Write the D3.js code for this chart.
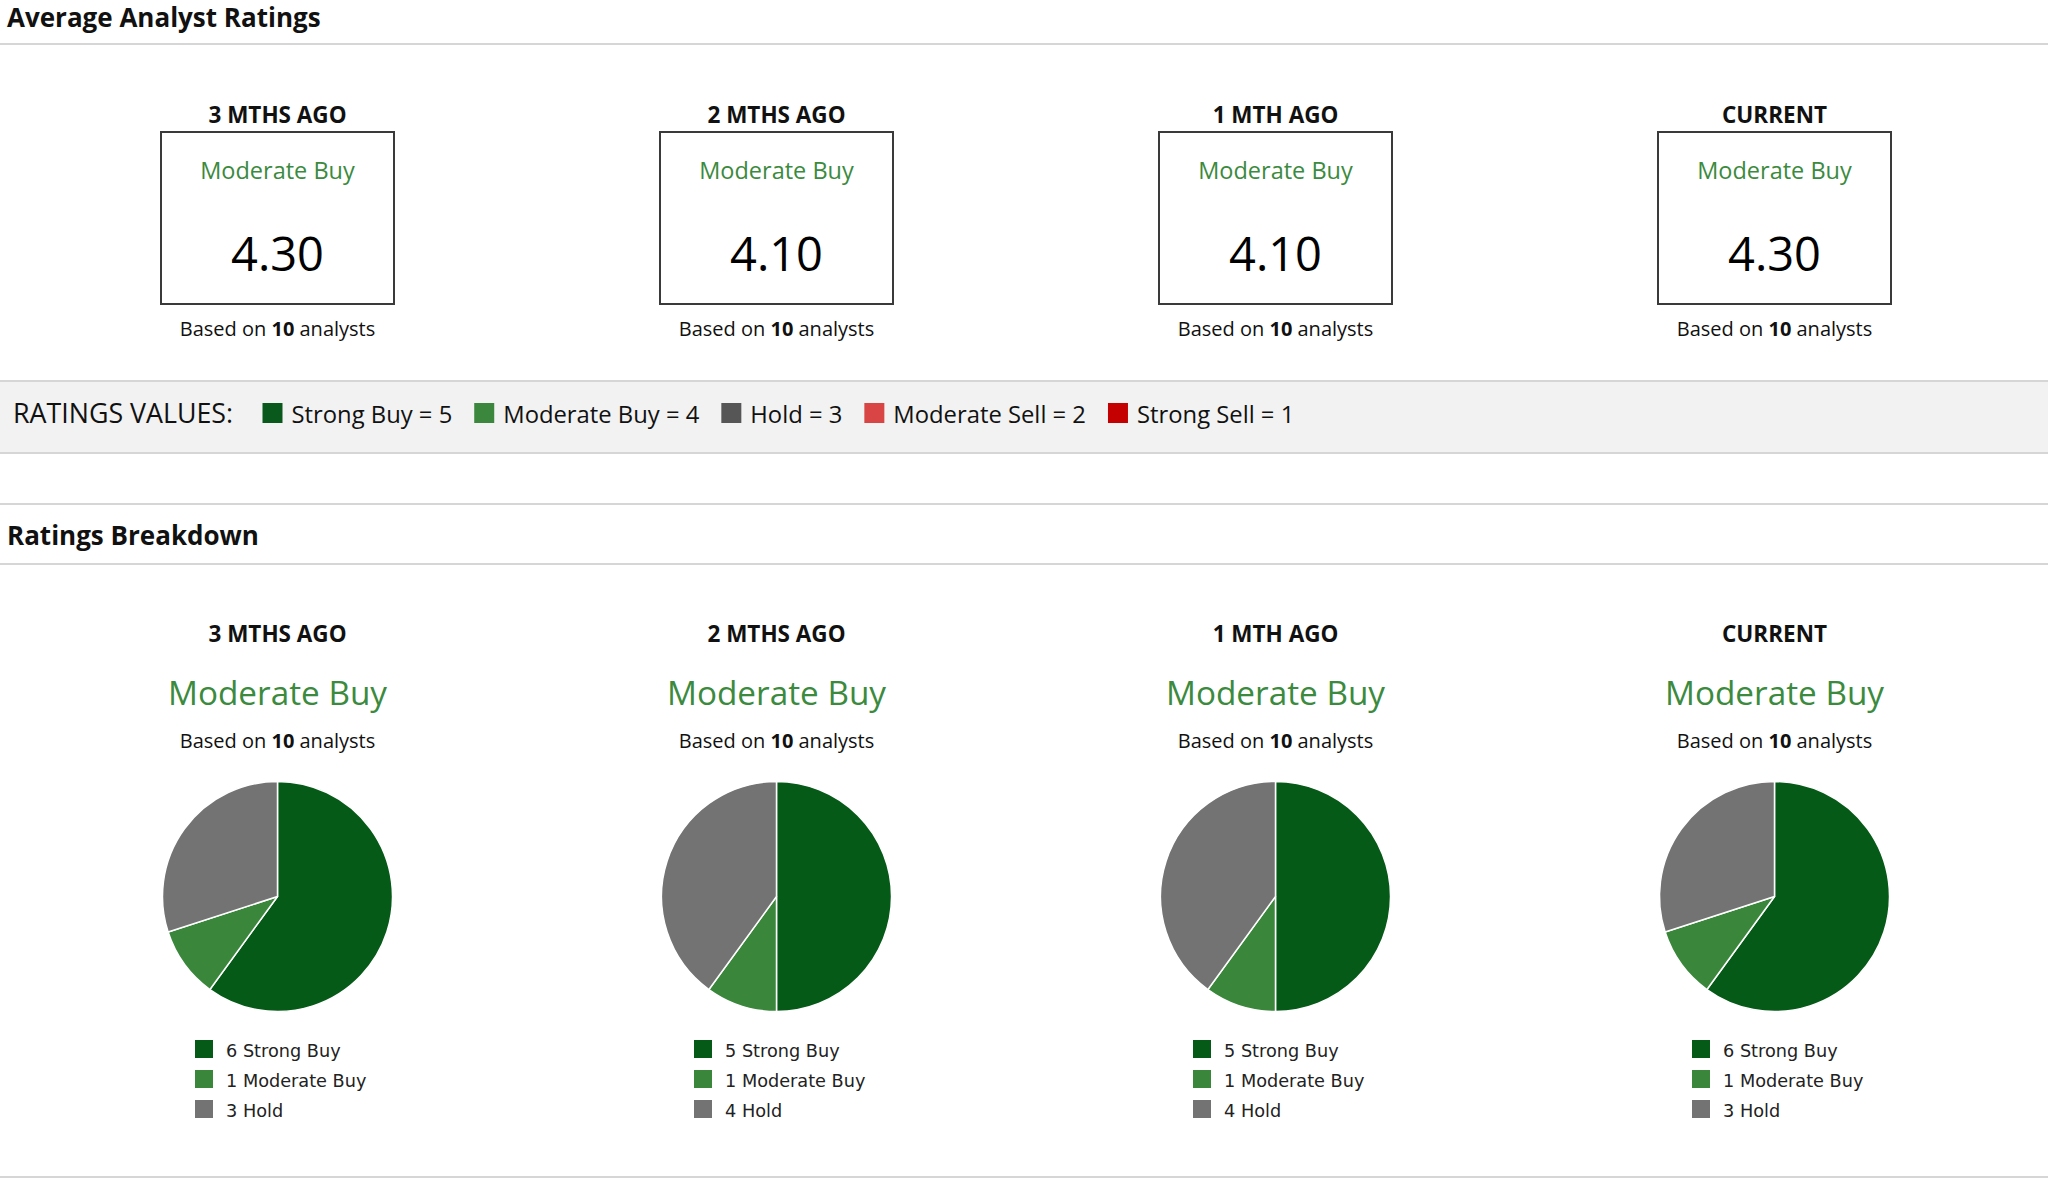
<html><head>
<title>Analyst Ratings</title>
<script src="https://d3js.org/d3.v7.min.js"></script>
<style>
  body { margin: 0; background: #ffffff; }
  svg text { font-family: 'Open Sans', sans-serif; }
  .sectionTitle { font-size: 26px; font-weight: 700; fill: #111; }
  .colHead { font-size: 22.5px; font-weight: 700; fill: #111; text-anchor: middle; }
  .based { font-size: 20px; fill: #111; text-anchor: middle; }
  .pieLegend { font-family: 'DejaVu Sans', sans-serif !important; font-size: 17.7px; fill: #222; }
</style>
</head>
<body>
<svg id="chart" width="2048" height="1179"></svg>
<script>

// ---- data ----
const periods = ["3 MTHS AGO", "2 MTHS AGO", "1 MTH AGO", "CURRENT"];
const avgScores = [4.30, 4.10, 4.10, 4.30];
const consensus = ["Moderate Buy", "Moderate Buy", "Moderate Buy", "Moderate Buy"];
const analystCounts = [10, 10, 10, 10];

const strongBuy = [6, 5, 5, 6];
const moderateBuy = [1, 1, 1, 1];
const hold = [3, 4, 4, 3];

const ratingNames = ["Strong Buy", "Moderate Buy", "Hold", "Moderate Sell", "Strong Sell"];
const ratingValues = [5, 4, 3, 2, 1];
const ratingColors = ["#08591b", "#3b873d", "#565656", "#d94545", "#c40000"];
const pieColors = ["#065a18", "#3a873c", "#737373"];

const svg = d3.select("#chart");
const width = +svg.attr("width");
const green = "#3b8a3e";
const lineColor = "#d6d6d6";

// column positions
const x = d3.scaleBand().domain(periods).range([28, 2024]);
const cx = p => x(p) + x.bandwidth() / 2;

function hline(y) {
  svg.append("rect").attr("x", 0).attr("y", y - 1).attr("width", width).attr("height", 2)
     .attr("fill", lineColor);
}

function basedOn(g, y, n) {
  const t = g.append("text").attr("class", "based").attr("y", y);
  t.append("tspan").text("Based on ");
  t.append("tspan").attr("font-weight", 700).text(n);
  t.append("tspan").text(" analysts");
}

// ---------- Average Analyst Ratings ----------
svg.append("text").attr("class", "sectionTitle").attr("x", 7).attr("y", 26.5)
   .text("Average Analyst Ratings");
hline(44);

const cols = svg.selectAll("g.avg").data(periods).join("g")
   .attr("class", "avg")
   .attr("transform", d => `translate(${cx(d)},0)`);

cols.append("text").attr("class", "colHead").attr("y", 123).text(d => d);
cols.append("rect")
   .attr("x", -116.5).attr("y", 132).attr("width", 233).attr("height", 172)
   .attr("fill", "none").attr("stroke", "#3a3a3a").attr("stroke-width", 2);
cols.append("text").attr("y", 178.5).attr("text-anchor", "middle")
   .attr("font-size", "23.5px").attr("fill", green)
   .text((d, i) => consensus[i]);
cols.append("text").attr("y", 270.5).attr("text-anchor", "middle")
   .attr("font-size", "47px").attr("fill", "#000")
   .text((d, i) => d3.format(".2f")(avgScores[i]));
cols.each(function(d, i) { basedOn(d3.select(this), 335.5, analystCounts[i]); });

// ---------- ratings values band ----------
svg.append("rect").attr("x", 0).attr("y", 381).attr("width", width).attr("height", 72)
   .attr("fill", "#f2f2f2");
hline(381);
hline(453);

svg.append("text").attr("x", 13).attr("y", 423.3).attr("font-size", "26.8px").attr("fill", "#111")
   .text("RATINGS VALUES:");

let lx = 262.5;
ratingNames.forEach((name, i) => {
  svg.append("rect").attr("x", lx).attr("y", 403).attr("width", 20).attr("height", 20)
     .attr("fill", ratingColors[i]);
  const t = svg.append("text").attr("x", lx + 29).attr("y", 423.3)
     .attr("font-size", "23.8px").attr("fill", "#111")
     .text(`${name} = ${ratingValues[i]}`);
  lx = lx + 29 + t.node().getComputedTextLength() + 22;
});

// ---------- Ratings Breakdown ----------
hline(504);
svg.append("text").attr("class", "sectionTitle").attr("x", 7).attr("y", 545)
   .text("Ratings Breakdown");
hline(564);

const pie = d3.pie().sort(null).value(d => d.count);
const arc = d3.arc().innerRadius(0).outerRadius(115);

const bcols = svg.selectAll("g.brk").data(periods).join("g")
   .attr("class", "brk")
   .attr("transform", d => `translate(${cx(d)},0)`);

bcols.append("text").attr("class", "colHead").attr("y", 642).text(d => d);
bcols.append("text").attr("y", 704.5).attr("text-anchor", "middle")
   .attr("font-size", "33.3px").attr("fill", green)
   .text((d, i) => consensus[i]);
bcols.each(function(d, i) {
  const g = d3.select(this);
  basedOn(g, 747.5, analystCounts[i]);

  const slices = [
    {name: "Strong Buy", count: strongBuy[i], color: pieColors[0]},
    {name: "Moderate Buy", count: moderateBuy[i], color: pieColors[1]},
    {name: "Hold", count: hold[i], color: pieColors[2]}
  ].filter(s => s.count > 0);

  g.append("g").attr("transform", "translate(0,896.5)")
    .selectAll("path").data(pie(slices)).join("path")
    .attr("d", arc)
    .attr("fill", s => s.data.color)
    .attr("stroke", "#ffffff")
    .attr("stroke-width", 1.5)
    .attr("stroke-linejoin", "round");

  const leg = g.selectAll("g.leg").data(slices).join("g")
    .attr("class", "leg")
    .attr("transform", (s, j) => `translate(-82.5,${1040 + j * 30})`);
  leg.append("rect").attr("width", 18).attr("height", 18).attr("fill", s => s.color);
  leg.append("text").attr("class", "pieLegend").attr("x", 31).attr("y", 16.5)
    .text(s => `${s.count} ${s.name}`);
});

hline(1177);

</script>
</body>
</html>
